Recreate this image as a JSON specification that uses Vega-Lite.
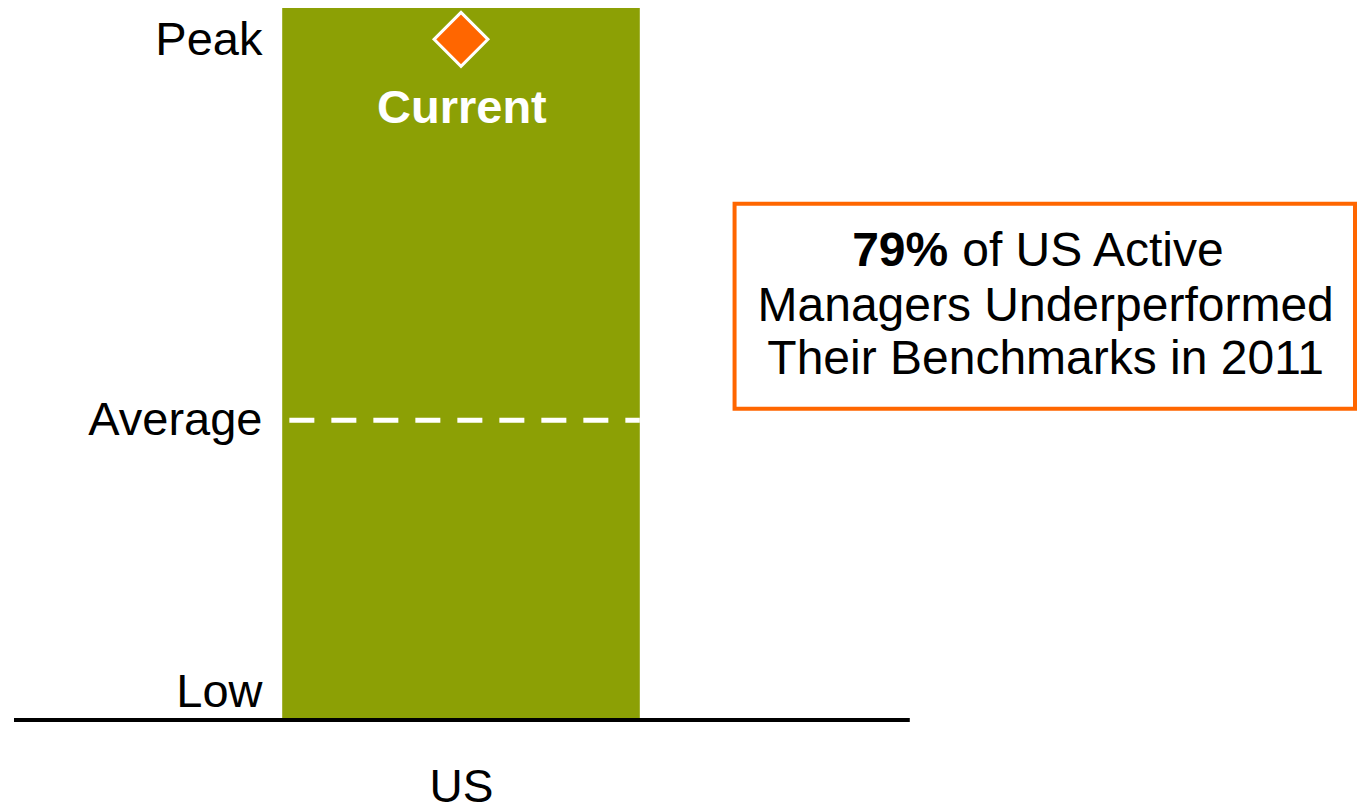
{
  "$schema": "https://vega.github.io/schema/vega-lite/v6.json",
  "width": 1341,
  "height": 712,
  "autosize": {"type": "none"},
  "padding": {"left": 14, "top": 8, "right": 2, "bottom": 90},
  "background": "white",
  "config": {"view": {"stroke": null}, "font": "Liberation Sans"},
  "data": {"values": [{"market": "US", "low": 0, "peak": 100, "average": 42.1, "current": 95.6}]},
  "layer": [
    {
      "mark": {"type": "rect", "color": "#8CA005"},
      "encoding": {
        "x": {"datum": 30, "type": "quantitative", "scale": {"domain": [0, 150], "nice": false, "zero": false},
          "axis": {"values": [50], "labelExpr": "'US'", "domain": false, "ticks": false, "tickSize": 0, "grid": false, "labelFontSize": 46, "labelColor": "black", "labelPadding": 45, "title": null, "labelFont": "Liberation Sans"}},
        "x2": {"datum": 70},
        "y": {"field": "low", "type": "quantitative", "scale": {"domain": [0, 100], "nice": false},
          "axis": {"values": [3.8, 42.1, 95.5], "labelExpr": "datum.value < 10 ? 'Low' : datum.value < 50 ? 'Average' : 'Peak'", "domain": false, "ticks": false, "tickSize": 0, "grid": false, "labelFontSize": 47, "labelColor": "black", "labelPadding": 0, "offset": -248, "title": null, "labelFont": "Liberation Sans"}},
        "y2": {"field": "peak"}
      }
    },
    {
      "mark": {"type": "rule", "color": "white", "strokeWidth": 5, "strokeDash": [25, 17]},
      "encoding": {
        "x": {"datum": 30.8, "type": "quantitative"},
        "x2": {"datum": 70},
        "y": {"field": "average", "type": "quantitative"}
      }
    },
    {
      "mark": {"type": "rule", "color": "black", "strokeWidth": 4},
      "encoding": {
        "x": {"datum": 0, "type": "quantitative"},
        "x2": {"datum": 100.2},
        "y": {"field": "low", "type": "quantitative"}
      }
    },
    {
      "mark": {"type": "point", "shape": "diamond", "filled": true, "size": 2900, "fill": "#FF6600", "stroke": "white", "strokeWidth": 3, "opacity": 1},
      "encoding": {
        "x": {"datum": 50, "type": "quantitative"},
        "y": {"field": "current", "type": "quantitative"}
      }
    },
    {
      "mark": {"type": "text", "text": "Current", "color": "white", "fontSize": 47, "fontWeight": "bold", "align": "center", "baseline": "middle", "dy": 70},
      "encoding": {
        "x": {"datum": 50.1, "type": "quantitative"},
        "y": {"field": "current", "type": "quantitative"}
      }
    },
    {
      "mark": {"type": "rect", "fill": "white", "stroke": "#FF6600", "strokeWidth": 4},
      "encoding": {
        "x": {"datum": 80.6, "type": "quantitative"},
        "x2": {"datum": 150},
        "y": {"datum": 72.5, "type": "quantitative"},
        "y2": {"datum": 43.7}
      }
    },
    {
      "mark": {"type": "text", "text": "79%", "color": "black", "fontSize": 48, "fontWeight": "bold", "align": "right", "baseline": "middle"},
      "encoding": {
        "x": {"datum": 104.5, "type": "quantitative"},
        "y": {"datum": 65.7, "type": "quantitative"}
      }
    },
    {
      "mark": {"type": "text", "text": "of US Active", "color": "black", "fontSize": 48, "align": "left", "baseline": "middle", "dx": 14},
      "encoding": {
        "x": {"datum": 104.5, "type": "quantitative"},
        "y": {"datum": 65.7, "type": "quantitative"}
      }
    },
    {
      "mark": {"type": "text", "text": "Managers Underperformed", "color": "black", "fontSize": 48, "align": "center", "baseline": "middle"},
      "encoding": {
        "x": {"datum": 115.4, "type": "quantitative"},
        "y": {"datum": 58.0, "type": "quantitative"}
      }
    },
    {
      "mark": {"type": "text", "text": "Their Benchmarks in 2011", "color": "black", "fontSize": 48, "align": "center", "baseline": "middle"},
      "encoding": {
        "x": {"datum": 115.4, "type": "quantitative"},
        "y": {"datum": 50.6, "type": "quantitative"}
      }
    }
  ]
}
